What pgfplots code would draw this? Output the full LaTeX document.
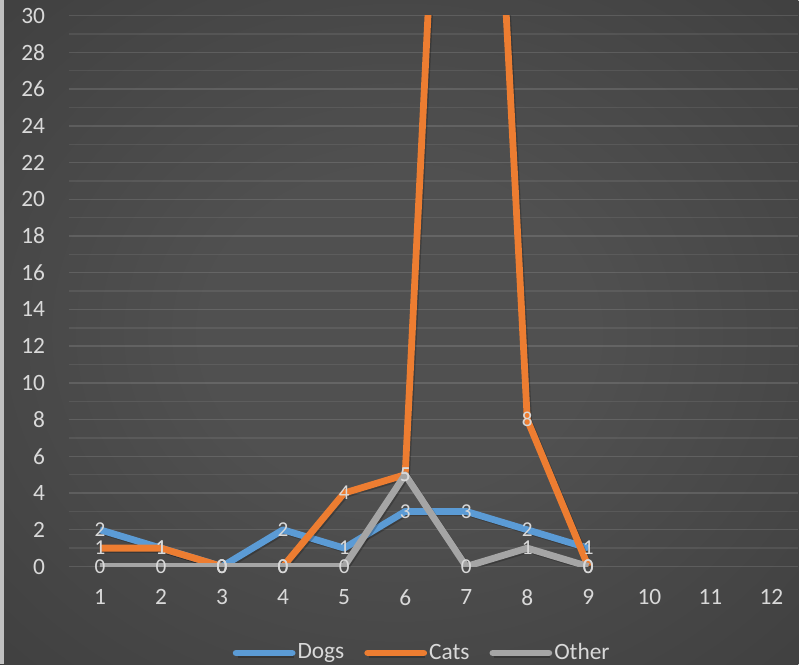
\documentclass[border=0pt]{standalone}
\usepackage{fontspec}
\setmainfont{Carlito}
\usepackage{pgfplots}
\pgfplotsset{compat=1.18}
\definecolor{bgin}{HTML}{505050}
\definecolor{bgout}{HTML}{282828}
\definecolor{stripc}{HTML}{C0C0C0}
\definecolor{dogs}{HTML}{5B9BD5}
\definecolor{cats}{HTML}{ED7D31}
\definecolor{other}{HTML}{A5A5A5}
\definecolor{txt}{HTML}{D9D9D9}
\pgfdeclareradialshading{bgshade}{\pgfpoint{0bp}{0bp}}{color(0bp)=(bgin); color(12bp)=(bgin); color(72bp)=(bgout)}
\begin{document}
\begin{tikzpicture}
\shade[shading=bgshade] (0pt,0pt) rectangle (399.5pt,332.5pt);
\fill[stripc] (0pt,0pt) rectangle (2pt,332.5pt);
\begin{axis}[
  at={(34.75pt,49pt)}, anchor=south west,
  scale only axis, width=364.75pt, height=275.65pt,
  xmin=0.5, xmax=12.44, ymin=0, ymax=30,
  xtick={1,...,12}, ytick={0,2,...,30}, minor y tick num=1,
  ymajorgrids, yminorgrids,
  major grid style={line width=0.7pt, white, opacity=0.12},
  minor grid style={line width=0.7pt, white, opacity=0.08},
  axis line style={draw=none},
  major tick length=0pt, minor tick length=0pt,
  /pgf/number format/assume math mode=true,
  tick label style={font=\fontsize{11.7}{13}\selectfont, text=txt},
  yticklabel style={anchor=east, inner sep=0pt, xshift=-12pt},
  xticklabel style={anchor=north, inner sep=0pt, yshift=-11.2pt},
  legend style={at={(0.484,-0.157)}, anchor=center, draw=none, fill=none,
    legend columns=3, font=\fontsize{11.7}{13}\selectfont, text=txt,
    /tikz/every even column/.append style={column sep=9pt},
    nodes={inner sep=1pt}},
  legend image code/.code={\draw[#1, line cap=round, line width=3.4pt] (0pt,0pt) -- (28pt,0pt);},
  every axis plot/.append style={line width=3.4pt, line join=round, mark=none},
  shadowed/.style={preaction={draw=black, opacity=0.22, transform canvas={shift={(0.7pt,-0.7pt)}}}},
  lab/.style={draw=none, forget plot, nodes near coords, point meta=explicit symbolic,
    every node near coord/.style={anchor=center, inner sep=0pt, text=txt, font=\fontsize{10.6}{12}\selectfont}},
]
\addplot[dogs, shadowed] coordinates {(1,2) (2,1) (3,0) (4,2) (5,1) (6,3) (7,3) (8,2) (9,1)};
\addplot[cats, shadowed] coordinates {(1,1) (2,1) (3,0) (4,0) (5,4) (6,5) (7,72) (8,8) (9,0)};
\addplot[other, shadowed] coordinates {(1,0) (2,0) (3,0) (4,0) (5,0) (6,5) (7,0) (8,1) (9,0)};
\legend{Dogs,Cats,Other}
\addplot[lab] coordinates {(1,2)[2] (2,1)[1] (3,0)[0] (4,2)[2] (5,1)[1] (6,3)[3] (7,3)[3] (8,2)[2] (9,1)[1]};
\addplot[lab] coordinates {(1,1)[1] (2,1)[1] (3,0)[0] (4,0)[0] (5,4)[4] (6,5)[5] (8,8)[8] (9,0)[0]};
\addplot[lab] coordinates {(1,0)[0] (2,0)[0] (3,0)[0] (4,0)[0] (5,0)[0] (6,5)[5] (7,0)[0] (8,1)[1] (9,0)[0]};
\end{axis}
\end{tikzpicture}
\end{document}
